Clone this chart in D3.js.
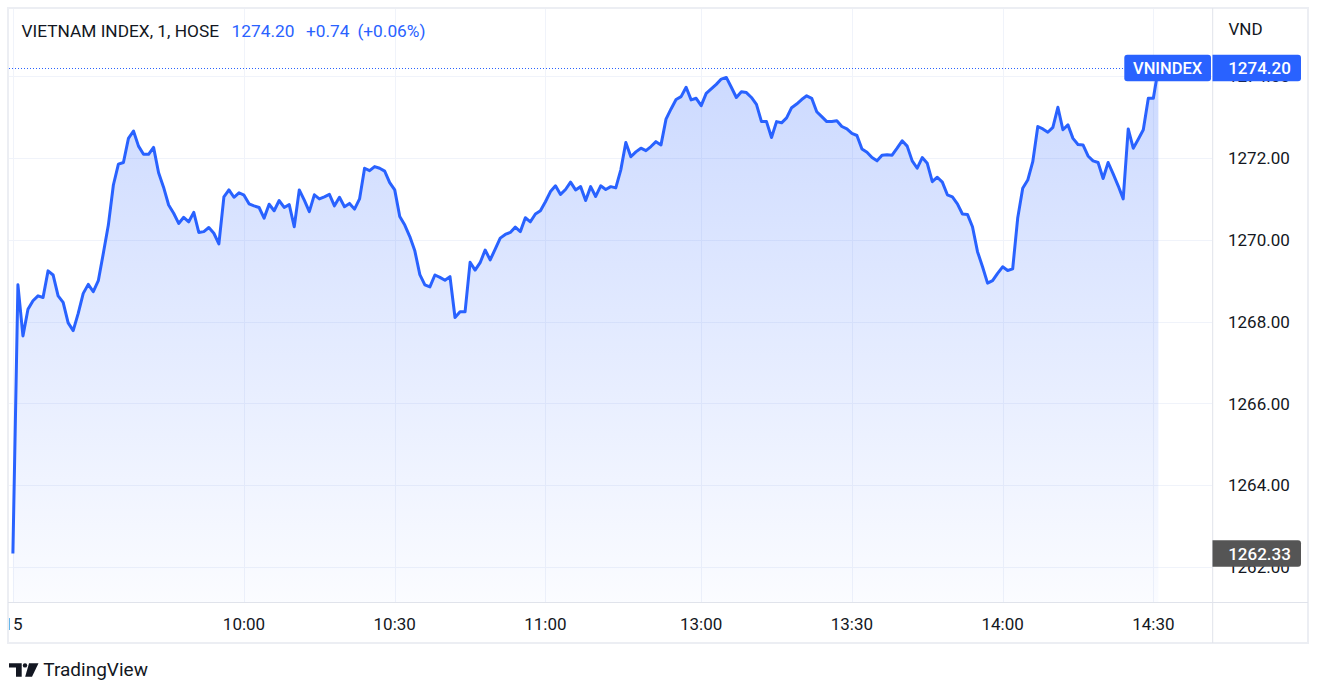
<!DOCTYPE html>
<meta charset="utf-8">
<script src="https://d3js.org/d3.v7.min.js"></script>
<style>
  body {
    margin: 0;
    background: #fff;
    font-family: Roboto, Arial, sans-serif;
  }
  .tick-label {
    font-size: 17px;
    fill: #131722;
  }
  .grid line {
    stroke: #f0f3fa;
    stroke-width: 1;
  }
</style>
<body></body>
<script>

// 1-minute closes, VN-Index (HOSE), one value per bar
var closes = [
  1262.33, 1268.90, 1267.65, 1268.30, 1268.51, 1268.63, 1268.59, 1269.24, 1269.14, 1268.63,
  1268.47, 1267.97, 1267.78, 1268.20, 1268.69, 1268.91, 1268.73, 1269.00, 1269.67, 1270.36,
  1271.34, 1271.85, 1271.89, 1272.48, 1272.66, 1272.29, 1272.09, 1272.09, 1272.26, 1271.64,
  1271.28, 1270.85, 1270.65, 1270.40, 1270.55, 1270.44, 1270.67, 1270.18, 1270.20, 1270.30,
  1270.16, 1269.90, 1271.05, 1271.22, 1271.04, 1271.15, 1271.09, 1270.88, 1270.83, 1270.79,
  1270.53, 1270.87, 1270.71, 1270.96, 1270.79, 1270.86, 1270.32, 1271.22, 1270.97, 1270.69,
  1271.10, 1271.00, 1271.05, 1271.11, 1270.83, 1271.04, 1270.81, 1270.89, 1270.75, 1271.00,
  1271.75, 1271.69, 1271.79, 1271.75, 1271.68, 1271.40, 1271.22, 1270.57, 1270.36, 1270.08,
  1269.73, 1269.15, 1268.90, 1268.85, 1269.14, 1269.08, 1269.01, 1269.10, 1268.10, 1268.24,
  1268.24, 1269.45, 1269.26, 1269.44, 1269.75, 1269.51, 1269.77, 1270.04, 1270.13, 1270.18,
  1270.31, 1270.20, 1270.54, 1270.44, 1270.63, 1270.71, 1270.93, 1271.18, 1271.32, 1271.11,
  1271.23, 1271.41, 1271.22, 1271.30, 1270.96, 1271.30, 1271.06, 1271.32, 1271.23, 1271.30,
  1271.27, 1271.71, 1272.38, 1272.03, 1272.15, 1272.24, 1272.18, 1272.28, 1272.40, 1272.32,
  1272.95, 1273.20, 1273.43, 1273.50, 1273.73, 1273.42, 1273.46, 1273.28, 1273.58, 1273.69,
  1273.80, 1273.93, 1273.97, 1273.73, 1273.48, 1273.62, 1273.60, 1273.48, 1273.31, 1272.89,
  1272.89, 1272.50, 1272.89, 1272.86, 1272.98, 1273.23, 1273.32, 1273.43, 1273.52, 1273.46,
  1273.13, 1273.01, 1272.89, 1272.89, 1272.91, 1272.77, 1272.71, 1272.60, 1272.55, 1272.22,
  1272.14, 1272.01, 1271.93, 1272.07, 1272.08, 1272.07, 1272.24, 1272.42, 1272.29, 1271.93,
  1271.75, 1272.01, 1271.87, 1271.42, 1271.53, 1271.41, 1271.10, 1271.05, 1270.88, 1270.63,
  1270.62, 1270.32, 1269.71, 1269.34, 1268.94, 1269.00, 1269.18, 1269.34, 1269.25, 1269.29,
  1270.53, 1271.26, 1271.46, 1271.91, 1272.77, 1272.71, 1272.63, 1272.75, 1273.24, 1272.69,
  1272.81, 1272.48, 1272.33, 1272.32, 1272.05, 1271.93, 1271.89, 1271.50, 1271.89, 1271.61,
  1271.32, 1271.00, 1272.71, 1272.24, 1272.46, 1272.69, 1273.46, 1273.46, 1274.20
];

// time axis: bar index of each tick and its label (lunch break has no bars)
var timeTickBars   = [0, 46, 76, 106, 137, 167, 197, 227];
var timeTickLabels = ["15", "10:00", "10:30", "11:00", "13:00", "13:30", "14:00", "14:30"];

var priceTicks = [1262, 1264, 1266, 1268, 1270, 1272, 1274];

var symbolTitle = "VIETNAM INDEX, 1, HOSE";
var lastPrice = 1274.20,
    change = 0.74,
    changePct = 0.06,
    prevClose = 1262.33;

var W = 1323, H = 697;
var frame = {left: 8, top: 8, right: 1308, bottom: 643};
var pane = {left: 9, top: 9, right: 1212.5, bottom: 602};

var svg = d3.select("body").append("svg")
    .attr("width", W)
    .attr("height", H)
    .style("display", "block");

var defs = svg.append("defs");
defs.append("clipPath").attr("id", "paneClip")
  .append("rect")
    .attr("x", pane.left).attr("y", pane.top)
    .attr("width", pane.right - pane.left).attr("height", pane.bottom - pane.top);
defs.append("clipPath").attr("id", "timeClip")
  .append("rect")
    .attr("x", pane.left).attr("y", pane.bottom)
    .attr("width", pane.right - pane.left).attr("height", frame.bottom - pane.bottom);

var x = d3.scaleLinear()
    .domain([0, closes.length - 1])
    .range([12.9, 12.9 + 5.024 * (closes.length - 1)]);
var y = d3.scaleLinear()
    .domain([1262, 1272])
    .range([567, 158]);

var fmt = d3.format(".2f");

// grid
var grid = svg.append("g").attr("class", "grid").attr("clip-path", "url(#paneClip)");
grid.selectAll(".hgrid")
    .data(priceTicks)
  .enter().append("line")
    .attr("x1", pane.left).attr("x2", pane.right)
    .attr("y1", function(d) { return Math.round(y(d)) + 0.5; })
    .attr("y2", function(d) { return Math.round(y(d)) + 0.5; });
grid.selectAll(".vgrid")
    .data(timeTickBars)
  .enter().append("line")
    .attr("y1", pane.top).attr("y2", pane.bottom)
    .attr("x1", function(d) { return Math.round(x(d)) + 0.5; })
    .attr("x2", function(d) { return Math.round(x(d)) + 0.5; });

// area + line
var grad = defs.append("linearGradient")
    .attr("id", "areaGrad")
    .attr("gradientUnits", "userSpaceOnUse")
    .attr("x1", 0).attr("x2", 0)
    .attr("y1", y(d3.max(closes))).attr("y2", pane.bottom);
grad.append("stop").attr("offset", 0).attr("stop-color", "#2962ff").attr("stop-opacity", 0.24);
grad.append("stop").attr("offset", 1).attr("stop-color", "#2962ff").attr("stop-opacity", 0.02);

var plot = svg.append("g").attr("clip-path", "url(#paneClip)");
plot.append("path")
    .datum(closes)
    .attr("fill", "url(#areaGrad)")
    .attr("d", d3.area()
      .x(function(d, i) { return x(i); })
      .y0(pane.bottom)
      .y1(function(d) { return y(d); }));
plot.append("path")
    .datum(closes)
    .attr("fill", "none")
    .attr("stroke", "#2962ff")
    .attr("stroke-width", 3)
    .attr("stroke-linejoin", "round")
    .attr("d", d3.line()
      .x(function(d, i) { return x(i); })
      .y(function(d) { return y(d); }));

// last price dotted line
var tagLeft = 1124.3;
plot.append("line")
    .attr("x1", pane.left).attr("x2", tagLeft)
    .attr("y1", Math.round(y(lastPrice)) + 0.5).attr("y2", Math.round(y(lastPrice)) + 0.5)
    .attr("stroke", "#2962ff")
    .attr("stroke-width", 1)
    .attr("stroke-dasharray", "1 2");

// frame and separators
svg.append("rect")
    .attr("x", frame.left).attr("y", frame.top)
    .attr("width", frame.right - frame.left).attr("height", frame.bottom - frame.top)
    .attr("fill", "none")
    .attr("stroke", "#eceef3")
    .attr("stroke-width", 2);
svg.append("line")
    .attr("x1", pane.right + 0.2).attr("x2", pane.right + 0.2)
    .attr("y1", frame.top).attr("y2", frame.bottom)
    .attr("stroke", "#e0e3eb");
svg.append("line")
    .attr("x1", frame.left).attr("x2", frame.right)
    .attr("y1", pane.bottom + 0.5).attr("y2", pane.bottom + 0.5)
    .attr("stroke", "#e0e3eb");

// price axis (1274.00 and 1262.00 sit mostly under the price tags, as in TradingView)
svg.append("g").selectAll("text")
    .data(priceTicks)
  .enter().append("text")
    .attr("class", "tick-label")
    .attr("x", 1228)
    .attr("y", function(d) { return y(d); })
    .attr("dy", "0.36em")
    .text(fmt);
svg.append("text")
    .attr("class", "tick-label")
    .attr("x", 1228.5)
    .attr("y", 34.5)
    .text("VND");

// time axis
svg.append("g").attr("clip-path", "url(#timeClip)").selectAll("text")
    .data(timeTickBars)
  .enter().append("text")
    .attr("class", "tick-label")
    .attr("x", function(d) { return x(d); })
    .attr("y", 630)
    .attr("text-anchor", "middle")
    .text(function(d, i) { return timeTickLabels[i]; });

// price tags
var tagH = 26.7;
function axisTag(yc, fill, label) {
  svg.append("path")
      .attr("d", "M1212.5," + (yc - tagH / 2) + "H1298a3,3 0 0 1 3,3V" + (yc + tagH / 2 - 3) +
                 "a3,3 0 0 1 -3,3H1212.5Z")
      .attr("fill", fill);
  svg.append("text")
      .attr("x", 1259.5).attr("y", yc).attr("dy", "0.36em")
      .attr("text-anchor", "middle").attr("fill", "#fff")
      .attr("font-size", 17).attr("font-weight", 500)
      .text(label);
}
var yLast = y(lastPrice);
svg.append("rect")
    .attr("x", tagLeft).attr("y", yLast - tagH / 2)
    .attr("width", 1211 - tagLeft).attr("height", tagH)
    .attr("rx", 3)
    .attr("fill", "#2962ff");
svg.append("text")
    .attr("x", (tagLeft + 1211) / 2).attr("y", yLast).attr("dy", "0.36em")
    .attr("text-anchor", "middle").attr("fill", "#fff")
    .attr("font-size", 16.5).attr("font-weight", 500)
    .text("VNINDEX");
axisTag(yLast, "#2962ff", fmt(lastPrice));
axisTag(y(prevClose), "#555555", fmt(prevClose));

// legend
var legend = svg.append("text")
    .attr("x", 21.5)
    .attr("y", 36.7)
    .attr("font-size", 17.3);
legend.append("tspan").attr("fill", "#131722").text(symbolTitle);
legend.append("tspan").attr("fill", "#2962ff").attr("dx", 12.5).text(fmt(lastPrice));
legend.append("tspan").attr("fill", "#2962ff").attr("dx", 11.5)
    .text((change >= 0 ? "+" : "") + fmt(change));
legend.append("tspan").attr("fill", "#2962ff").attr("dx", 8)
    .text("(" + (changePct >= 0 ? "+" : "") + fmt(changePct) + "%)");

// TradingView logo
var logo = svg.append("g").attr("fill", "#131722");
logo.append("path").attr("d", "M9,663.3H21.7V676.7H16V667.5H9Z");
logo.append("circle").attr("cx", 25).attr("cy", 665.4).attr("r", 2.2);
logo.append("path").attr("d", "M29,663.3H38.5L32,676.7H25.2Z");
svg.append("text")
    .attr("x", 43.3)
    .attr("y", 676.3)
    .attr("font-size", 19)
    .attr("fill", "#131722")
    .text("TradingView");

</script>
